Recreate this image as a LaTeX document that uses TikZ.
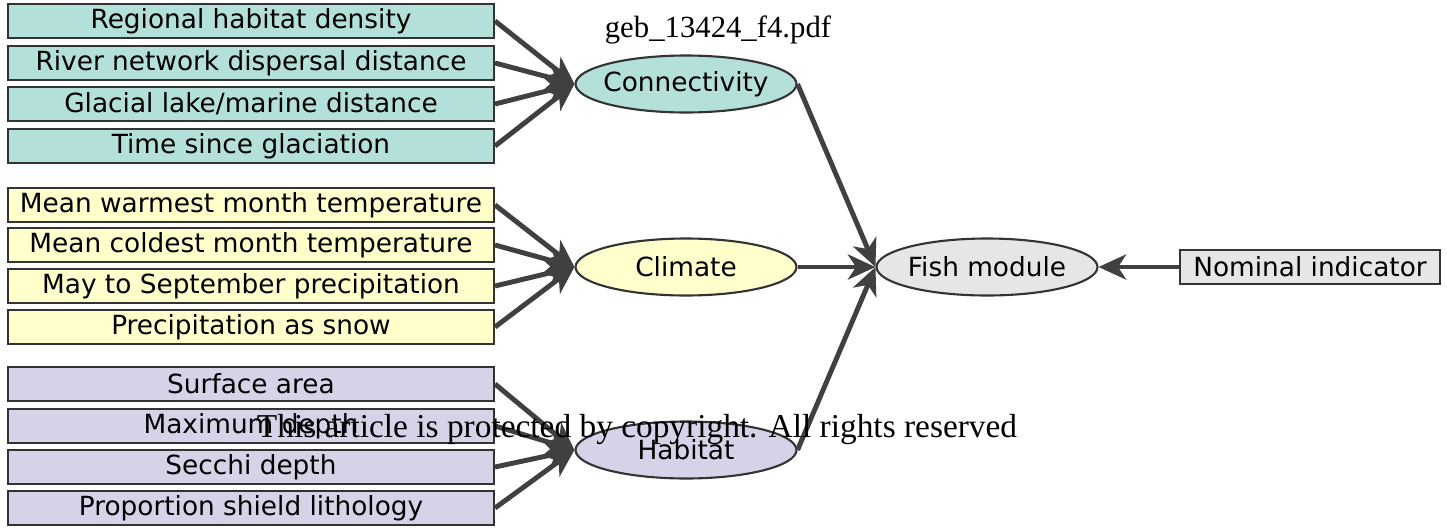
\documentclass[tikz,border=0pt]{standalone}
\usepackage{fontspec}
\setmainfont{DejaVu Sans}
\newfontfamily\stampfont{Liberation Serif}
\usetikzlibrary{arrows.meta,positioning,shapes.geometric}
\definecolor{mint}{RGB}{179,224,216}
\definecolor{cream}{RGB}{255,255,204}
\definecolor{lilac}{RGB}{213,211,232}
\definecolor{mist}{RGB}{230,230,230}
\definecolor{ink}{RGB}{64,64,64}
\tikzset{
  >={Stealth[length=5.5mm,width=5mm,inset=1.6mm]},
  factor/.style={draw=ink!80!black,line width=1.2pt,fill=#1,minimum width=9.72cm,
    minimum height=0.68cm,inner sep=0pt,font=\fontsize{15}{17}\selectfont},
  factor/.default=mist,
  module/.style={ellipse,draw=ink!80!black,line width=1.2pt,fill=#1,minimum width=4.42cm,
    minimum height=1.14cm,inner xsep=-3mm,inner ysep=0pt,font=\fontsize{15}{17}\selectfont},
  module/.default=mist,
  link/.style={->,line width=2.8pt,draw=ink},
  stamp/.style={font=\stampfont\fontsize{#1}{20}\selectfont,text=black},
  stamp/.default=19,
}
\begin{document}
\begin{tikzpicture}[x=0.02cm,y=-0.02cm]
  \useasboundingbox (0,0) rectangle (1447,528);
  % latent modules
  \node[module=mint] (conn) at (686,84) {Connectivity};
  \node[module=cream] (clim) at (686,267) {Climate};
  \node[module=lilac] (hab) at (686,450) {Habitat};
  \node[module] (fish) at (987,267) {Fish module};
  \node[factor,minimum width=5.2cm] (nom) at (1310,267) {Nominal indicator};
  % indicator boxes
  \foreach \t/\y [count=\i] in {Regional habitat density/21,River network dispersal distance/63,
    {Glacial lake/marine distance}/104,Time since glaciation/146}{
    \node[factor=mint] (c\i) at (251,\y) {\t};
    \draw[link] (c\i.east) -- (conn.west);
  }
  \foreach \t/\y [count=\i] in {Mean warmest month temperature/205,Mean coldest month temperature/245,
    May to September precipitation/286,Precipitation as snow/327}{
    \node[factor=cream] (k\i) at (251,\y) {\t};
    \draw[link] (k\i.east) -- (clim.west);
  }
  \foreach \t/\y [count=\i] in {Surface area/384,Maximum depth/426,Secchi depth/467,
    Proportion shield lithology/508}{
    \node[factor=lilac] (h\i) at (251,\y) {\t};
    \draw[link] (h\i.east) -- (hab.west);
  }
  \foreach \m in {conn,clim,hab}
    \draw[link] (\m.east) -- (fish.west);
  \draw[link] (nom.west) -- (fish.east);
  % stamps
  \node[stamp=17.5] (file) at (718,30) {geb\_13424\_f4.pdf};
  \node[stamp] (note) at (637,430) {This article is protected by copyright. All rights reserved};
\end{tikzpicture}
\end{document}
